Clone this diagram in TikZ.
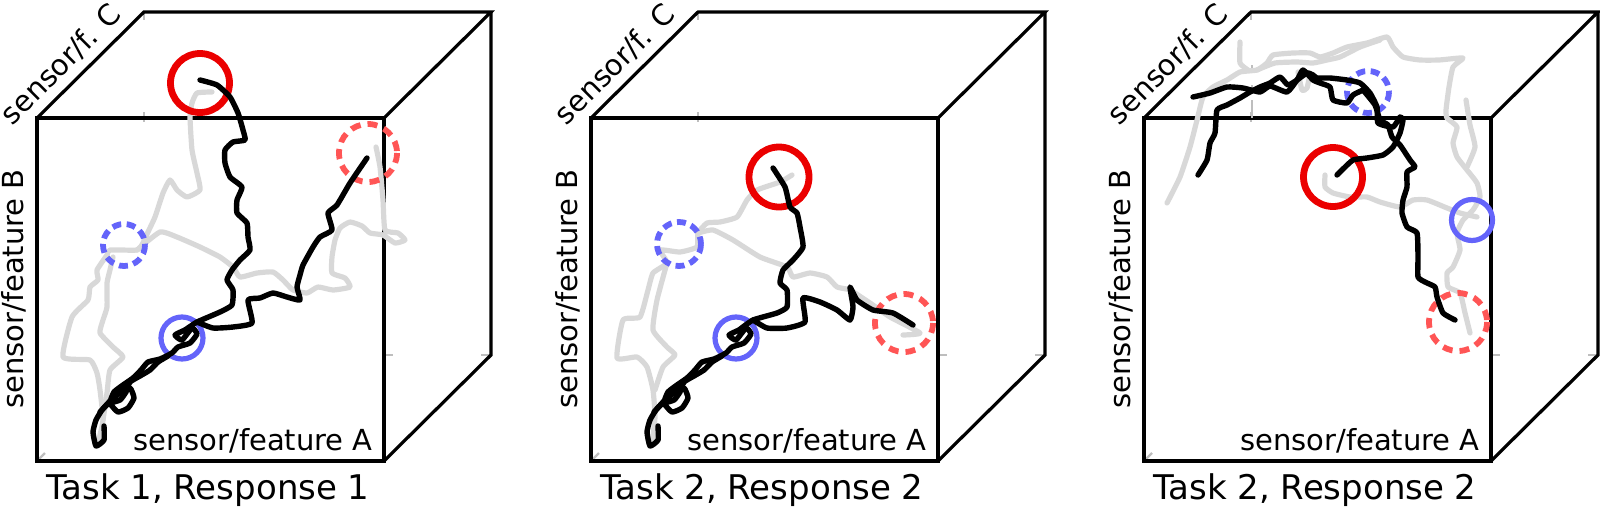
\documentclass[tikz,border=0pt]{standalone}
\usepackage{fontspec}
\newfontfamily\dv{DejaVu Sans}
\definecolor{trgray}{RGB}{216,216,216}
\definecolor{rsolid}{RGB}{235,0,0}
\definecolor{rdash}{RGB}{255,85,85}
\definecolor{bcol}{RGB}{100,100,250}
\definecolor{hidcol}{RGB}{190,190,190}
\tikzset{
 edge/.style={line width=3.2pt, line join=miter, black},
 blk/.style={line width=5.4pt, line cap=round, line join=round, black},
 gry/.style={line width=5.2pt, line cap=round, line join=round, trgray},
 redsolid/.style={line width=6.8pt, rsolid},
 reddash/.style={line width=5.8pt, rdash, dash pattern=on 10pt off 7pt},
 bluesolid/.style={line width=5.2pt, bcol},
 bluedash/.style={line width=5.8pt, bcol, dash pattern=on 9pt off 5.5pt},
 hid/.style={line width=2.2pt, hidcol},
 lbl/.style={font=\dv\fontsize{29}{34}\selectfont, inner sep=0pt},
 ttl/.style={font=\dv\fontsize{34}{40}\selectfont, inner sep=0pt},
}
\newcommand\mycube[3]{%
\begin{scope}[xshift=#1pt]
 \coordinate (#3fa) at (37,118);
 \coordinate (#3fb) at (384,118);
 \coordinate (#3fc) at (384,461);
 \coordinate (#3fd) at (37,461);
 \coordinate (#3ba) at (144,12);
 \coordinate (#3bb) at (491,12);
 \coordinate (#3bc) at (491,355);
 \draw[hid] (144,112) -- (144,122);
 \draw[hid] (144,14) -- (144,20);
 \draw[hid] (383,355) -- (393,355);
 \draw[hid] (481,355) -- (490,355);
 \draw[hid] (39,459) -- (45,453);
 \draw[edge] (#3fa) rectangle (#3fc);
 \draw[edge] (#3fa) -- (#3ba) -- (#3bb) -- (#3fb);
 \draw[edge] (#3bb) -- (#3bc) -- (#3fc);
 \node[lbl, anchor=base east] (#3A) at (373,450) {sensor/feature A};
 \node[lbl, rotate=90, anchor=base] (#3B) at (23.5,289) {sensor/feature B};
 \node[lbl, rotate=45, anchor=base] (#3C) at (68,71) {sensor/f. C};
 \node[ttl, anchor=base] (#3T) at (208,499) {#2};
\end{scope}}
\newcommand\lowblack{%
 \draw[blk] plot[smooth, tension=0.3] coordinates {(185,330) (175,335) (182,340) (192,328) (197,334) (190,343) (178,347) (172,353) (160,359) (148,362) (141,370) (133,378) (123,385) (114,392) (110,403) (118,412) (128,408) (134,398) (130,388) (120,393) (110,401) (102,410) (96,420) (93,432) (96,446) (104,440) (104,426)};
 \draw[blk] plot[smooth, tension=0.3] coordinates {(168,356) (158,362) (150,370) (140,376) (130,382) (126,392) (120,400) (108,404) (100,412)};}
\begin{document}
\begin{tikzpicture}[x=1pt,y=-1pt]
\useasboundingbox (0,0) rectangle (1600,507);
\mycube{0}{Task 1, Response 1}{c1}
\mycube{554}{Task 2, Response 2}{c2}
\mycube{1107}{Task 2, Response 2}{c3}
\foreach \yy/\zz in {65/72, 85/92, 100/118} \draw[hid] (1252,\yy) -- (1252,\zz);
% ---------- gray trajectories ----------
% cube 1
\draw[gry] plot[smooth, tension=0.3] coordinates {(212,92) (197,93) (192,103) (190,117) (192,150) (197,173) (200,190) (187,197) (177,190) (170,180) (163,193) (155,217) (148,232) (143,243) (137,250) (110,250) (107,255) (97,270) (98,280) (90,287) (88,300) (72,317) (63,357) (90,360) (97,373) (100,390) (103,420) (98,443)};
\draw[gry] plot[smooth, tension=0.3] coordinates {(137,250) (160,232) (177,237) (200,247) (220,257) (233,267) (240,277) (257,273) (273,272) (283,280) (293,290) (307,293) (318,287) (333,290) (350,287) (345,278) (332,273) (332,257) (335,240) (340,228) (350,222) (362,226) (370,233) (383,235) (395,243) (405,240) (398,233) (385,230) (383,200) (380,167) (376,147)};
\draw[gry] plot[smooth, tension=0.3] coordinates {(113,257) (110,270) (107,283) (107,307) (103,320) (100,333) (113,347) (123,357) (110,370) (107,393) (103,420)};
% cube 2
\draw[gry] plot[smooth, tension=0.3] coordinates {(792,175) (780,182) (757,190) (747,200) (737,217) (720,222) (707,223) (698,233) (697,247) (680,252) (660,250) (667,263) (653,273) (648,290) (640,317) (623,320) (617,358) (637,357) (647,367) (653,390) (655,417) (652,443)};
\draw[gry] plot[smooth, tension=0.3] coordinates {(698,233) (713,230) (733,240) (760,257) (787,267) (793,277) (810,273) (827,277) (837,287) (850,290) (870,303) (890,317) (920,333) (903,335)};
\draw[gry] plot[smooth, tension=0.3] coordinates {(667,263) (657,300) (653,330) (667,347) (675,355) (663,367) (655,390)};
% cube 3
\draw[gry] plot[smooth, tension=0.3] coordinates {(1167,203) (1180,177) (1190,147) (1197,120) (1203,97) (1213,87) (1227,80) (1240,72) (1257,70) (1267,63) (1273,55) (1293,53) (1310,53) (1320,57) (1333,53) (1347,47) (1367,43) (1387,37) (1393,47) (1403,57) (1420,60) (1439,60) (1463,58) (1453,67) (1449,87) (1446,110) (1447,118) (1457,127) (1453,143) (1457,157) (1467,170) (1477,183) (1480,197) (1473,210) (1463,220) (1457,233) (1460,250) (1453,267) (1447,273) (1448,287) (1460,293) (1465,313) (1470,333)};
\draw[gry] plot[smooth, tension=0.3] coordinates {(1325,175) (1325,187) (1333,193) (1350,197) (1367,197) (1380,202) (1400,207) (1413,200) (1427,200) (1447,208) (1460,213) (1477,217)};
\draw[gry] plot[smooth, tension=0.3] coordinates {(1240,42) (1240,63) (1248,70)};
\draw[gry] plot[smooth, tension=0.3] coordinates {(1257,70) (1275,63) (1297,62) (1313,63) (1327,60) (1340,57) (1360,47) (1380,40)};
\draw[gry] plot[smooth, tension=0.3] coordinates {(1298,72) (1302,90) (1307,88) (1310,73)};
\draw[gry] plot[smooth, tension=0.3] coordinates {(1466,100) (1470,125) (1475,147) (1467,167)};
% ---------- circles ----------
\draw[redsolid] (200,83) circle[radius=29.5];
\draw[reddash] (368,153) circle[radius=29];
\draw[bluedash] (124,245) circle[radius=21];
\draw[bluesolid] (182,338) circle[radius=21];
\draw[redsolid] (779,177) circle[radius=30];
\draw[bluedash] (679,244) circle[radius=22];
\draw[bluesolid] (736,338) circle[radius=21];
\draw[reddash] (904,323) circle[radius=29];
\draw[redsolid] (1333,177) circle[radius=29.5];
\draw[bluedash] (1368,92) circle[radius=21];
\draw[bluesolid] (1472,220) circle[radius=20.5];
\draw[reddash] (1458,322) circle[radius=29];
% ---------- black trajectories ----------
% cube 1
\draw[blk] plot[smooth, tension=0.3] coordinates {(200,80) (217,85) (230,97) (238,113) (243,130) (245,140) (233,142) (225,150) (225,163) (230,177) (242,187) (237,200) (237,213) (247,223) (248,237) (250,250) (240,260) (232,270) (227,280) (233,290) (232,305) (220,312) (197,322) (185,330)};
\draw[blk] plot[smooth, tension=0.3] coordinates {(197,322) (213,328) (233,327) (252,323) (248,300) (260,298) (273,293) (287,297) (300,300) (297,287) (300,275) (303,265) (313,247) (320,237) (332,230) (328,213) (337,205) (350,183) (367,158)};
\lowblack
% cube 2
\draw[blk] plot[smooth, tension=0.3] coordinates {(773,168) (785,187) (790,207) (797,213) (800,227) (803,247) (793,260) (783,270) (780,283) (787,290) (787,307) (777,313) (753,320) (739,330)};
\draw[blk] plot[smooth, tension=0.3] coordinates {(753,320) (767,328) (787,328) (805,322) (803,298) (820,302) (837,310) (850,320) (853,307) (850,287) (857,300) (873,310) (893,313) (913,325)};
\begin{scope}[xshift=554pt]\lowblack\end{scope}
% cube 3
\draw[blk] plot[smooth, tension=0.3] coordinates {(1198,175) (1207,160) (1210,143) (1215,133) (1217,110) (1227,105) (1240,98) (1250,92) (1260,87) (1270,83) (1280,77) (1288,85) (1297,80) (1307,73) (1313,75) (1317,78) (1330,78) (1347,80) (1360,83) (1370,93) (1377,107) (1378,123) (1393,127) (1400,117) (1403,120) (1400,133) (1393,147) (1383,155) (1367,158) (1353,160) (1342,170) (1337,175)};
\draw[blk] plot[smooth, tension=0.3] coordinates {(1193,97) (1210,93) (1227,87) (1243,88) (1260,92) (1270,86) (1287,92) (1297,80) (1303,70) (1313,80) (1320,83) (1330,87) (1333,100) (1347,103) (1353,95) (1363,90)};
\draw[blk] plot[smooth, tension=0.3] coordinates {(1363,90) (1375,105) (1380,120) (1388,125) (1392,137) (1400,145) (1410,160) (1415,167) (1407,172) (1407,187) (1403,200) (1402,213) (1407,227) (1417,233) (1418,257) (1418,277) (1425,282) (1435,287) (1437,297) (1443,313) (1455,320)};
\end{tikzpicture}
\end{document}
